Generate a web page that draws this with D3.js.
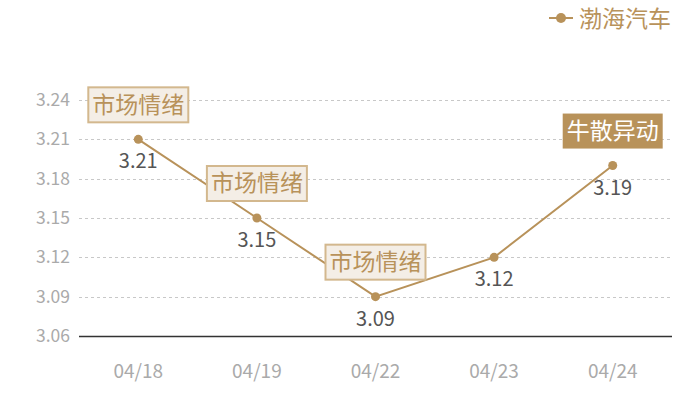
<!DOCTYPE html>
<html>
<head>
<meta charset="utf-8">
<script src="https://cdn.jsdelivr.net/npm/d3@7"></script>
<style>
  body { margin: 0; background: #fff; }
  svg text { font-family: "Noto Sans CJK SC", "Noto Sans", sans-serif; }
</style>
</head>
<body>
<svg id="chart" width="700" height="400"></svg>
<script>
// data
var dates = ["04/18", "04/19", "04/22", "04/23", "04/24"];
var prices = [3.21, 3.15, 3.09, 3.12, 3.19];
var notes = ["市场情绪", "市场情绪", "市场情绪", null, "牛散异动"];
var noteFilled = [false, false, false, false, true];
var yTicks = [3.06, 3.09, 3.12, 3.15, 3.18, 3.21, 3.24];
var seriesName = "渤海汽车";

var gold = "#b8925a";
var svg = d3.select("#chart");

var x = d3.scaleBand().domain(dates).range([79, 672]);
var y = d3.scaleLinear().domain([3.06, 3.24]).range([336, 100]);
var cx = function(d){ return x(d) + x.bandwidth() / 2; };

// grid
svg.append("g").selectAll("line")
  .data(yTicks.slice(1))
  .join("line")
    .attr("x1", 79).attr("x2", 672)
    .attr("y1", function(d){ return Math.round(y(d)) + 0.5; })
    .attr("y2", function(d){ return Math.round(y(d)) + 0.5; })
    .attr("stroke", "#c8c8c8")
    .attr("stroke-dasharray", "3,3");

// y labels
svg.append("g").selectAll("text")
  .data(yTicks)
  .join("text")
    .attr("x", 70)
    .attr("y", function(d){ return y(d); })
    .attr("dy", "0.35em")
    .attr("text-anchor", "end")
    .attr("font-size", 17.5)
    .attr("fill", "#aaaaaa")
    .text(function(d){ return d.toFixed(2); });

// x axis
svg.append("line")
  .attr("x1", 79).attr("x2", 672)
  .attr("y1", Math.round(y(3.06)) + 0.5).attr("y2", Math.round(y(3.06)) + 0.5)
  .attr("stroke", "#333")
  .attr("stroke-width", 1.5);

svg.append("g").selectAll("text")
  .data(dates)
  .join("text")
    .attr("x", cx)
    .attr("y", 371)
    .attr("dy", "0.35em")
    .attr("text-anchor", "middle")
    .attr("font-size", 19)
    .attr("fill", "#aaaaaa")
    .text(function(d){ return d; });

// line + points
var pts = dates.map(function(d, i){ return [cx(d), y(prices[i])]; });
svg.append("path")
  .attr("d", d3.line()(pts))
  .attr("fill", "none")
  .attr("stroke", gold)
  .attr("stroke-width", 2);

svg.append("g").selectAll("circle")
  .data(pts)
  .join("circle")
    .attr("cx", function(p){ return p[0]; })
    .attr("cy", function(p){ return p[1]; })
    .attr("r", 4.5)
    .attr("fill", gold);

// value labels
svg.append("g").selectAll("text")
  .data(prices)
  .join("text")
    .attr("x", function(d, i){ return cx(dates[i]); })
    .attr("y", function(d){ return y(d) + 22; })
    .attr("dy", "0.35em")
    .attr("text-anchor", "middle")
    .attr("font-size", 20)
    .attr("fill", "#555555")
    .text(function(d){ return d.toFixed(2); });

// annotation boxes
var noteData = notes.map(function(n, i){ return {text: n, i: i}; })
  .filter(function(d){ return d.text; });
var ng = svg.append("g").selectAll("g")
  .data(noteData)
  .join("g")
    .attr("transform", function(d){
      return "translate(" + cx(dates[d.i]) + "," + (y(prices[d.i]) - 35) + ")";
    });
ng.append("rect")
  .attr("x", -50).attr("y", -17)
  .attr("width", 100).attr("height", 35)
  .attr("fill", function(d){ return noteFilled[d.i] ? gold : "#f4eee6"; })
  .attr("stroke", function(d){ return noteFilled[d.i] ? "none" : "#d3b88e"; })
  .attr("stroke-width", 2);
ng.append("text")
  .attr("text-anchor", "middle")
  .attr("dy", "0.36em")
  .attr("font-size", 23)
  .attr("fill", function(d){ return noteFilled[d.i] ? "#ffffff" : gold; })
  .text(function(d){ return d.text; });

// legend
var lg = svg.append("g").attr("transform", "translate(549,18)");
lg.append("line").attr("x1", 0).attr("x2", 24).attr("stroke", gold).attr("stroke-width", 2);
lg.append("circle").attr("cx", 12).attr("r", 5).attr("fill", gold);
lg.append("text")
  .attr("x", 30)
  .attr("dy", "0.38em")
  .attr("font-size", 23)
  .attr("fill", gold)
  .text(seriesName);
</script>
</body>
</html>
